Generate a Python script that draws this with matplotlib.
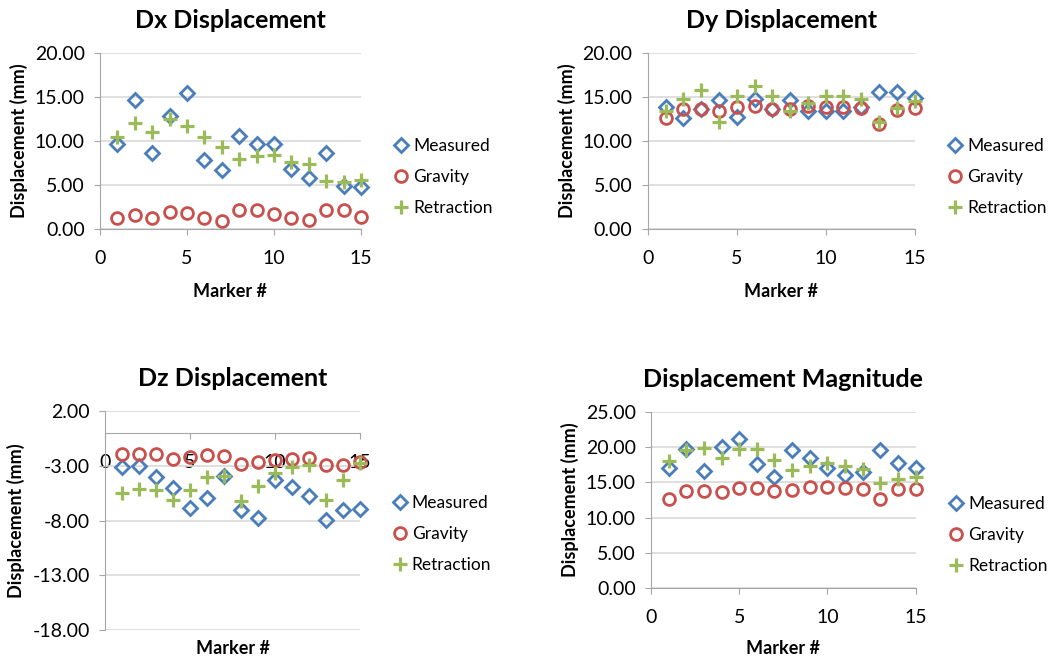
import matplotlib
matplotlib.use('Agg')
import matplotlib.pyplot as plt
import numpy as np

plt.rcParams['font.family'] = ['Lato', 'DejaVu Sans']

markers_x = np.arange(1, 16)

# Dx displacement
dx_measured = [9.6, 14.7, 8.6, 12.8, 15.5, 7.8, 6.7, 10.6, 9.7, 9.6, 6.8, 5.8, 8.6, 4.9, 4.8]
dx_gravity = [1.2, 1.55, 1.2, 1.9, 1.8, 1.3, 0.9, 2.2, 2.1, 1.75, 1.3, 1.0, 2.2, 2.1, 1.4]
dx_retraction = [10.5, 12.0, 11.0, 12.5, 11.7, 10.5, 9.3, 7.95, 8.25, 8.35, 7.6, 7.4, 5.4, 5.3, 5.6]

# Dy displacement
dy_measured = [13.85, 12.6, 13.6, 14.7, 12.7, 14.8, 13.6, 14.7, 13.4, 13.4, 13.4, 13.9, 15.6, 15.6, 14.9]
dy_gravity = [12.6, 13.6, 13.6, 13.4, 13.9, 14.0, 13.6, 13.6, 14.0, 13.9, 13.9, 13.7, 11.9, 13.5, 13.7]
dy_retraction = [13.4, 14.8, 15.8, 12.1, 15.1, 16.3, 15.1, 13.4, 14.3, 15.15, 15.15, 14.8, 12.2, 13.8, 14.5]

# Dz displacement
dz_measured = [-3.15, -3.05, -4.0, -5.0, -6.9, -5.9, -3.95, -7.05, -7.8, -4.3, -4.95, -5.8, -7.95, -7.05, -6.95]
dz_gravity = [-1.9, -1.95, -1.9, -2.4, -2.2, -2.05, -2.1, -2.85, -2.7, -2.5, -2.4, -2.25, -2.9, -2.95, -2.7]
dz_retraction = [-5.45, -5.15, -5.2, -6.1, -5.2, -4.0, -3.95, -6.25, -4.85, -3.7, -3.1, -2.95, -6.1, -4.3, -2.75]

# Displacement magnitude
mag_measured = [17.1, 19.7, 16.65, 20.05, 21.2, 17.6, 15.8, 19.6, 18.5, 17.1, 16.0, 16.5, 19.6, 17.8, 17.1]
mag_gravity = [12.7, 13.8, 13.8, 13.6, 14.25, 14.25, 13.8, 13.9, 14.4, 14.4, 14.25, 14.0, 12.6, 14.0, 14.0]
mag_retraction = [18.0, 19.6, 19.95, 18.4, 19.8, 19.8, 18.2, 16.75, 17.3, 17.8, 17.3, 16.85, 14.85, 15.5, 15.8]

series_names = ['Measured', 'Gravity', 'Retraction']
blue = '#4A7EBB'
red = '#C9504D'
green = '#9BBB59'
grid_c = '#D9D9D9'
axis_c = '#A6A6A6'

fig = plt.figure(figsize=(10.5, 6.57), dpi=100)


def draw_panel(rect, title, meas, grav, retr, yticks, legend_y, zero_axis=False, xlabel_y=-0.30):
    ax = fig.add_axes(rect)
    ax.plot(markers_x, meas, linestyle='none', marker='D', markersize=7.5, clip_on=False,
            markerfacecolor='none', markeredgecolor=blue, markeredgewidth=2.0, label=series_names[0])
    ax.plot(markers_x, grav, linestyle='none', marker='o', markersize=8.5, clip_on=False,
            markerfacecolor='none', markeredgecolor=red, markeredgewidth=2.0, label=series_names[1])
    ax.plot(markers_x, retr, linestyle='none', marker='+', markersize=9.5, clip_on=False,
            markeredgecolor=green, markeredgewidth=2.3, label=series_names[2])
    ax.set_xlim(0, 15)
    ax.set_ylim(yticks[0], yticks[-1])
    ax.set_xticks([0, 5, 10, 15])
    ax.set_yticks(yticks)
    ax.set_yticklabels([f'{v:.2f}' for v in yticks])
    ax.grid(axis='y', color=grid_c, linewidth=1.2)
    ax.set_axisbelow(True)
    for s in ['top', 'right']:
        ax.spines[s].set_visible(False)
    ax.spines['left'].set_color(axis_c)
    ax.spines['bottom'].set_color(axis_c)
    if zero_axis:
        ax.spines['bottom'].set_position(('data', 0))
    ax.tick_params(axis='y', length=4, color=axis_c, labelsize=14, pad=7)
    ax.tick_params(axis='x', length=4, color=axis_c, labelsize=14, pad=11)
    ax.set_title(title, fontsize=18, fontweight='bold', pad=18)
    ax.set_ylabel('Displacement (mm)', fontsize=13, fontweight='bold', labelpad=5)
    ax.set_xlabel('Marker #', fontsize=13, fontweight='bold')
    ax.xaxis.set_label_coords(0.5, xlabel_y)
    ax.legend(loc='center left', bbox_to_anchor=(1.1, legend_y), frameon=False,
              fontsize=12.5, handlelength=0.8, handletextpad=0.3, labelspacing=0.85,
              borderaxespad=0)
    return ax


draw_panel([0.0952, 0.6515, 0.2486, 0.2679], 'Dx Displacement',
           dx_measured, dx_gravity, dx_retraction, [0, 5, 10, 15, 20], 0.295, xlabel_y=-0.307)
draw_panel([0.617, 0.6515, 0.254, 0.2679], 'Dy Displacement',
           dy_measured, dy_gravity, dy_retraction, [0, 5, 10, 15, 20], 0.295, xlabel_y=-0.307)
draw_panel([0.1, 0.0411, 0.243, 0.3333], 'Dz Displacement',
           dz_measured, dz_gravity, dz_retraction, [-18, -13, -8, -3, 2], 0.438,
           zero_axis=True, xlabel_y=-0.046)
draw_panel([0.62, 0.105, 0.252, 0.268], 'Displacement Magnitude',
           mag_measured, mag_gravity, mag_retraction, [0, 5, 10, 15, 20, 25], 0.30, xlabel_y=-0.295)

fig.savefig('out.png', dpi=100)
